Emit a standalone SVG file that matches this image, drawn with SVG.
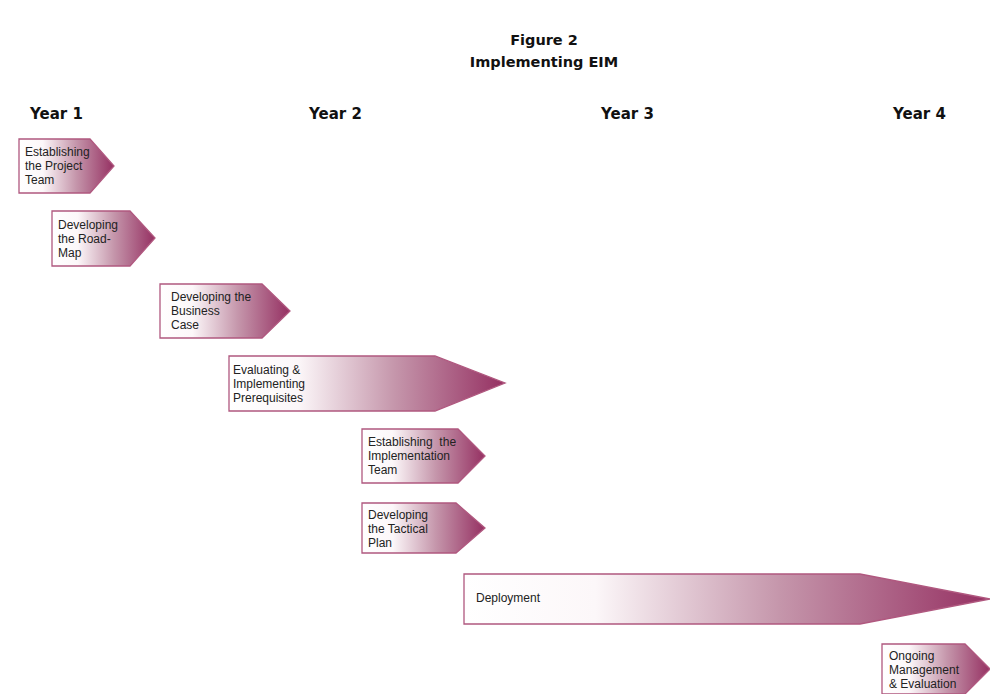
<svg xmlns="http://www.w3.org/2000/svg" width="990" height="694" viewBox="0 0 990 694">
<style>
.title{font-family:"DejaVu Sans",Verdana,sans-serif;font-weight:bold;font-size:14.5px;fill:#111;text-anchor:middle}
.year{font-family:"DejaVu Sans",Verdana,sans-serif;font-weight:bold;font-size:15px;fill:#111}
.lbl{font-family:"Liberation Sans",Arial,sans-serif;font-size:12px;fill:#222;white-space:pre}
.arr{fill:url(#g);stroke:#b0587f;stroke-width:1.3}
</style>
<defs>
<linearGradient id="g" x1="0" y1="0" x2="1" y2="0">
<stop offset="0" stop-color="#ffffff"/>
<stop offset="0.25" stop-color="#fcf7f9"/>
<stop offset="0.6" stop-color="#c596ab"/>
<stop offset="1" stop-color="#953062"/>
</linearGradient>
</defs>
<rect width="990" height="694" fill="#fff"/>
<text class="title" x="544" y="45">Figure 2</text>
<text class="title" x="544" y="67">Implementing EIM</text>
<text class="year" x="30" y="119">Year 1</text>
<text class="year" x="309" y="119">Year 2</text>
<text class="year" x="601" y="119">Year 3</text>
<text class="year" x="893" y="119">Year 4</text>
<g id="n1"><polygon class="arr" points="19,139 90,139 114,166 90,193 19,193"/>
<text class="lbl" x="25" y="156">Establishing</text><text class="lbl" x="25" y="170">the Project</text><text class="lbl" x="25" y="184">Team</text></g>
<g id="n2"><polygon class="arr" points="52,211 130,211 155,238 130,266 52,266"/>
<text class="lbl" x="58" y="229">Developing</text><text class="lbl" x="58" y="243">the Road-</text><text class="lbl" x="58" y="257">Map</text></g>
<g id="n3"><polygon class="arr" points="160,284 262,284 290,311 262,338 160,338"/>
<text class="lbl" x="171" y="301">Developing the</text><text class="lbl" x="171" y="315">Business</text><text class="lbl" x="171" y="329">Case</text></g>
<g id="n4"><polygon class="arr" points="229,356 435,356 505,383 435,411 229,411"/>
<text class="lbl" x="233" y="374">Evaluating &amp;</text><text class="lbl" x="233" y="388">Implementing</text><text class="lbl" x="233" y="402">Prerequisites</text></g>
<g id="n5"><polygon class="arr" points="362,429 458,429 485,456 458,483 362,483"/>
<text class="lbl" x="368" y="446" xml:space="preserve">Establishing  the</text><text class="lbl" x="368" y="460">Implementation</text><text class="lbl" x="368" y="474">Team</text></g>
<g id="n6"><polygon class="arr" points="362,503 456,503 485,528 456,553 362,553"/>
<text class="lbl" x="368" y="519">Developing</text><text class="lbl" x="368" y="533">the Tactical</text><text class="lbl" x="368" y="547">Plan</text></g>
<g id="n7"><polygon class="arr" points="464,574 860,574 990,599 860,624 464,624"/>
<text class="lbl" x="476" y="602">Deployment</text></g>
<g id="n8"><polygon class="arr" points="882,644 965,644 990,669 965,694 882,694"/>
<text class="lbl" x="889" y="660">Ongoing</text><text class="lbl" x="889" y="674">Management</text><text class="lbl" x="889" y="688">&amp; Evaluation</text></g>
<g id="connectors"/>
</svg>
